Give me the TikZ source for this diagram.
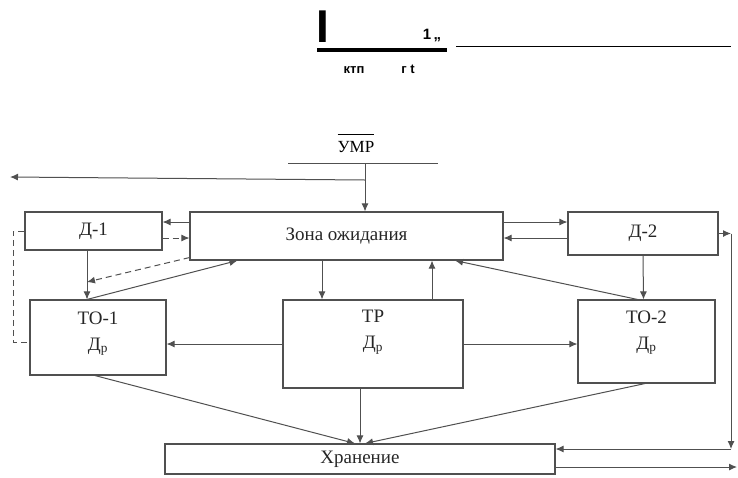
\documentclass[tikz,border=0pt]{standalone}
\usepackage{fontspec}
\setmainfont{Liberation Serif}
\newfontfamily\hdrfont{Liberation Sans}
\definecolor{lngray}{RGB}{80,80,80}
\usetikzlibrary{arrows.meta,calc}

\begin{document}
\begin{tikzpicture}[x=1pt, y=-1pt, >={Latex[length=8pt,width=7pt]},
  every node/.style={font=\fontsize{19}{26}\selectfont, text=black!85},
  bx/.style={draw=lngray, line width=1.1pt, inner sep=0pt, align=center},
  lbl/.style={align=center, inner sep=0pt},
  ln/.style={draw=lngray, line width=1pt},
  dsh/.style={dash pattern=on 6pt off 4pt},
  hd/.style={font=\hdrfont\bfseries\fontsize{13}{15}\selectfont, text=black, inner sep=0pt}]
\useasboundingbox (0,0) rectangle (738,477);
% Header
\node[hd, font=\hdrfont\bfseries\fontsize{46}{46}\selectfont] (bar) at (323,27) {I};
\node[hd, font=\hdrfont\bfseries\fontsize{15}{17}\selectfont] (one) at (432,35) {1\,„};
\node[hd] (ktp) at (354,70) {ктп};
\node[hd] (gt) at (408,69) {г t};
\coordinate (ruleL) at (317,50);
\coordinate (ruleR) at (447,50);
\coordinate (thinL) at (456,46);
\coordinate (thinR) at (731,46);
\draw[line width=4pt] (ruleL) -- (ruleR);
\draw[line width=0.8pt] (thinL) -- (thinR);
% Input
\node[font=\fontsize{17}{19}\selectfont, text=black, anchor=base, inner sep=0pt] (umr)
  at (356,152) {$\overline{\hbox{\rule{0pt}{16pt}УМР}}$};
\coordinate (umrL) at (288,163);
\coordinate (umrR) at (438,163);
\coordinate (umrIn) at (365,163);
\coordinate (split) at (365,180);
\coordinate (outL) at (10,177);
\draw[ln] (umrL) -- (umrR);
% Blocks
\node[bx, minimum width=137pt, minimum height=38pt] (d1) at (93.5,231) {Д-1};
\node[bx, minimum width=313pt, minimum height=48pt] (zona) at (346.5,236) {Зона ожидания};
\node[bx, minimum width=150pt, minimum height=43pt] (d2) at (643,233.5) {Д-2};
\node[bx, minimum width=136pt, minimum height=75pt,
  label={[lbl, yshift=4pt]center:{ТО-1\\Д\textsubscript{р}}}] (to1) at (98,337.5) {};
\node[bx, minimum width=180pt, minimum height=88pt,
  label={[lbl, yshift=12pt]center:{ТР\\Д\textsubscript{р}}}] (tp) at (373,344) {};
\node[bx, minimum width=137pt, minimum height=83pt,
  label={[lbl, yshift=9pt]center:{ТО-2\\Д\textsubscript{р}}}] (to2) at (646.5,341.5) {};
\node[bx, minimum width=390pt, minimum height=30pt] (hran) at (360,459) {Хранение};
% Flow
\draw[ln, ->] (umrIn) -- (umrIn |- zona.north);
\draw[ln, ->] (split) -- (outL);
\draw[ln, ->] ([yshift=14pt]zona.west) -- ([yshift=14pt]zona.west -| d1.east);
\draw[ln, dsh, ->] ([yshift=-7pt]d1.east) -- ([yshift=-7pt]d1.east -| zona.west);
\draw[ln, ->] ([xshift=-6.5pt]d1.south) -- ([xshift=-6.5pt]d1.south |- to1.north);
\coordinate (d1tap) at (87,282);
\draw[ln, dsh, ->] ([yshift=3pt]zona.south west) -- (d1tap);
\draw[ln, ->] ([xshift=-11pt]to1.north) -- ($(zona.south west)+(48,0)$);
\draw[ln, dsh] (d1.west) -- ++(-11,0) |- ([yshift=-5pt]to1.west);
\draw[ln, ->] ([xshift=-24.5pt]zona.south) -- ([xshift=-24.5pt]zona.south |- tp.north);
\draw[ln, ->] ([xshift=59pt]tp.north) -- ([xshift=59pt]tp.north |- zona.south);
\draw[ln, ->] ([xshift=-9pt]to2.north) -- ([xshift=108.5pt]zona.south);
\draw[ln, ->] ([yshift=14pt]zona.east) -- ([yshift=14pt]zona.east -| d2.west);
\draw[ln, ->] ([yshift=-4.5pt]d2.west) -- ([yshift=-4.5pt]d2.west -| zona.east);
\draw[ln, ->] (d2.south) -- ([xshift=-3pt]to2.north);
\draw[ln, ->] (tp.west) -- (tp.west -| to1.east);
\draw[ln, ->] (tp.east) -- (tp.east -| to2.west);
% Storage
\coordinate (rtop) at (731,233.5);
\coordinate (rbot) at (731,449);
\coordinate (outR) at (737,467);
\draw[ln, ->] ([xshift=-3pt]to1.south) -- ([xshift=-5pt]hran.north);
\draw[ln, ->] ([xshift=-13pt]tp.south) -- (hran.north);
\draw[ln, ->] ([xshift=-1.5pt]to2.south) -- ([xshift=5pt]hran.north);
\draw[ln, ->] (d2.east) -- (rtop);
\draw[ln, ->] (rtop) -- (rbot);
\draw[ln, ->] (rbot) -- (rbot -| hran.east);
\draw[ln, ->] (hran.east |- outR) -- (outR);
\end{tikzpicture}
\end{document}
